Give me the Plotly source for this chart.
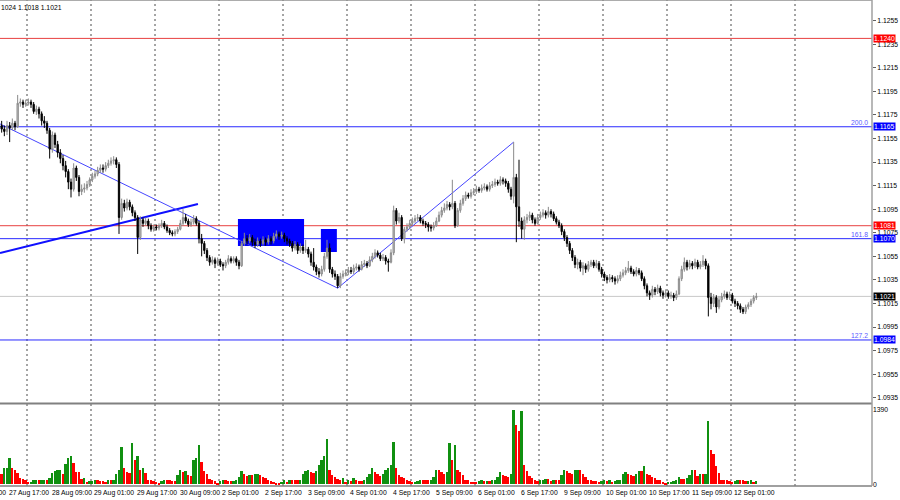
import plotly.graph_objects as go

# ---------------- data (EURUSD H1) ----------------
open_ = [
    1.1166, 1.1163, 1.1161, 1.1166, 1.1164, 1.1168, 1.1165, 1.1185, 1.1186, 1.1184,
    1.1185, 1.1186, 1.1184, 1.1178, 1.1180, 1.1176, 1.1170, 1.1168, 1.1162, 1.1146,
    1.1158, 1.1150, 1.1143, 1.1138, 1.1132, 1.1127, 1.1118, 1.1112, 1.1130, 1.1122,
    1.1110, 1.1112, 1.1113, 1.1116, 1.1120, 1.1123, 1.1125, 1.1128, 1.1130, 1.1129,
    1.1132, 1.1134, 1.1136, 1.1137, 1.1133, 1.1088, 1.1100, 1.1096, 1.1101, 1.1097,
    1.1092, 1.1088, 1.1071, 1.1086, 1.1083, 1.1085, 1.1081, 1.1078, 1.1080, 1.1079,
    1.1081, 1.1083, 1.1080, 1.1077, 1.1075, 1.1074, 1.1076, 1.1078, 1.1083, 1.1088,
    1.1085, 1.1082, 1.1084, 1.1087, 1.1083, 1.1070, 1.1066, 1.1060, 1.1054, 1.1050,
    1.1052, 1.1049, 1.1051, 1.1048, 1.1047, 1.1050, 1.1053, 1.1051, 1.1053, 1.1050,
    1.1047, 1.1066, 1.1070, 1.1068, 1.1071, 1.1067, 1.1065, 1.1068, 1.1066, 1.1069,
    1.1067, 1.1070, 1.1068, 1.1072, 1.1074, 1.1072, 1.1073, 1.1070, 1.1068, 1.1066,
    1.1062, 1.1065, 1.1060, 1.1063, 1.1060, 1.1061, 1.1057, 1.1050, 1.1046, 1.1042,
    1.1040, 1.1044, 1.1055, 1.1062, 1.1044, 1.1040, 1.1038, 1.1030, 1.1038, 1.1040,
    1.1041, 1.1043, 1.1042, 1.1045, 1.1046, 1.1044, 1.1048, 1.1049, 1.1047, 1.1052,
    1.1055, 1.1058, 1.1056, 1.1053, 1.1054, 1.1051, 1.1050, 1.1058, 1.1094, 1.1085,
    1.1088, 1.1070, 1.1078, 1.1080, 1.1083, 1.1085, 1.1087, 1.1088, 1.1085, 1.1083,
    1.1082, 1.1080, 1.1079, 1.1081, 1.1085, 1.1090, 1.1094, 1.1096, 1.1099, 1.1097,
    1.1100, 1.1081, 1.1094, 1.1100, 1.1104, 1.1107, 1.1106, 1.1109, 1.1110, 1.1112,
    1.1111, 1.1113, 1.1114, 1.1112, 1.1115, 1.1116, 1.1118, 1.1117, 1.1120, 1.1119,
    1.1117, 1.1112, 1.1106, 1.1122, 1.1097, 1.1085, 1.1078, 1.1086, 1.1088, 1.1090,
    1.1086, 1.1083, 1.1088, 1.1090, 1.1092, 1.1090, 1.1093, 1.1091, 1.1087, 1.1084,
    1.1081, 1.1076, 1.1071, 1.1066, 1.1060, 1.1054, 1.1048, 1.1050, 1.1045, 1.1047,
    1.1044, 1.1048, 1.1050, 1.1047, 1.1049, 1.1044, 1.1040, 1.1037, 1.1035, 1.1037,
    1.1036, 1.1034, 1.1036, 1.1039, 1.1041, 1.1043, 1.1045, 1.1042, 1.1040, 1.1043,
    1.1041, 1.1036, 1.1030, 1.1024, 1.1022, 1.1027, 1.1025, 1.1028, 1.1024, 1.1022,
    1.1024, 1.1021, 1.1022, 1.1020, 1.1023, 1.1036, 1.1044, 1.1050, 1.1046, 1.1049,
    1.1047, 1.1050, 1.1046, 1.1048, 1.1051, 1.1047, 1.1020, 1.1015, 1.1020, 1.1012,
    1.1018, 1.1021, 1.1023, 1.1020, 1.1022, 1.1017, 1.1015, 1.1013, 1.1010, 1.1008,
    1.1012, 1.1014, 1.1017, 1.1020,
]
high_ = [
    1.1170, 1.1166, 1.1170, 1.1169, 1.1172, 1.1170, 1.1192, 1.1189, 1.1188, 1.1188,
    1.1189, 1.1188, 1.1186, 1.1183, 1.1182, 1.1178, 1.1174, 1.1170, 1.1164, 1.1161,
    1.1160, 1.1153, 1.1146, 1.1141, 1.1136, 1.1129, 1.1121, 1.1134, 1.1132, 1.1124,
    1.1116, 1.1117, 1.1119, 1.1122, 1.1126, 1.1128, 1.1131, 1.1133, 1.1133, 1.1135,
    1.1137, 1.1139, 1.1140, 1.1139, 1.1135, 1.1104, 1.1103, 1.1104, 1.1103, 1.1099,
    1.1094, 1.1090, 1.1089, 1.1088, 1.1088, 1.1087, 1.1083, 1.1082, 1.1082, 1.1083,
    1.1086, 1.1085, 1.1082, 1.1079, 1.1077, 1.1078, 1.1080, 1.1086, 1.1095, 1.1091,
    1.1087, 1.1087, 1.1090, 1.1089, 1.1085, 1.1074, 1.1068, 1.1062, 1.1056, 1.1055,
    1.1054, 1.1054, 1.1053, 1.1050, 1.1052, 1.1056, 1.1055, 1.1055, 1.1055, 1.1052,
    1.1068, 1.1075, 1.1073, 1.1074, 1.1073, 1.1070, 1.1071, 1.1070, 1.1072, 1.1071,
    1.1073, 1.1072, 1.1075, 1.1077, 1.1076, 1.1076, 1.1075, 1.1072, 1.1070, 1.1068,
    1.1068, 1.1067, 1.1066, 1.1065, 1.1069, 1.1063, 1.1059, 1.1062, 1.1048, 1.1045,
    1.1047, 1.1058, 1.1069, 1.1066, 1.1046, 1.1043, 1.1040, 1.1041, 1.1043, 1.1044,
    1.1046, 1.1046, 1.1048, 1.1049, 1.1048, 1.1051, 1.1052, 1.1051, 1.1055, 1.1058,
    1.1061, 1.1060, 1.1058, 1.1057, 1.1056, 1.1053, 1.1061, 1.1098, 1.1096, 1.1092,
    1.1090, 1.1080, 1.1083, 1.1086, 1.1088, 1.1090, 1.1091, 1.1090, 1.1087, 1.1085,
    1.1084, 1.1082, 1.1084, 1.1088, 1.1093, 1.1097, 1.1100, 1.1102, 1.1101, 1.1120,
    1.1102, 1.1096, 1.1103, 1.1107, 1.1110, 1.1109, 1.1112, 1.1113, 1.1115, 1.1114,
    1.1116, 1.1117, 1.1116, 1.1118, 1.1119, 1.1121, 1.1120, 1.1123, 1.1122, 1.1121,
    1.1119, 1.1114, 1.1152, 1.1125, 1.1137, 1.1088, 1.1089, 1.1091, 1.1093, 1.1092,
    1.1088, 1.1091, 1.1093, 1.1095, 1.1094, 1.1097, 1.1095, 1.1093, 1.1089, 1.1086,
    1.1083, 1.1078, 1.1073, 1.1068, 1.1062, 1.1056, 1.1053, 1.1052, 1.1050, 1.1049,
    1.1051, 1.1052, 1.1052, 1.1052, 1.1051, 1.1046, 1.1042, 1.1039, 1.1040, 1.1039,
    1.1038, 1.1039, 1.1042, 1.1044, 1.1046, 1.1051, 1.1047, 1.1044, 1.1046, 1.1045,
    1.1043, 1.1038, 1.1032, 1.1026, 1.1030, 1.1029, 1.1031, 1.1030, 1.1026, 1.1027,
    1.1026, 1.1025, 1.1024, 1.1026, 1.1038, 1.1047, 1.1054, 1.1052, 1.1052, 1.1051,
    1.1053, 1.1052, 1.1051, 1.1056, 1.1053, 1.1049, 1.1024, 1.1023, 1.1022, 1.1021,
    1.1024, 1.1026, 1.1025, 1.1025, 1.1024, 1.1019, 1.1017, 1.1015, 1.1012, 1.1014,
    1.1016, 1.1019, 1.1022, 1.1024,
]
low_ = [
    1.1160, 1.1157, 1.1158, 1.1152, 1.1162, 1.1162, 1.1164, 1.1182, 1.1181, 1.1182,
    1.1183, 1.1181, 1.1176, 1.1175, 1.1172, 1.1166, 1.1164, 1.1159, 1.1138, 1.1143,
    1.1147, 1.1139, 1.1134, 1.1128, 1.1122, 1.1112, 1.1105, 1.1110, 1.1119, 1.1106,
    1.1107, 1.1109, 1.1111, 1.1114, 1.1118, 1.1121, 1.1123, 1.1126, 1.1126, 1.1127,
    1.1130, 1.1132, 1.1133, 1.1130, 1.1074, 1.1086, 1.1093, 1.1094, 1.1094, 1.1089,
    1.1085, 1.1057, 1.1069, 1.1080, 1.1081, 1.1078, 1.1076, 1.1076, 1.1077, 1.1077,
    1.1079, 1.1078, 1.1075, 1.1073, 1.1072, 1.1072, 1.1074, 1.1077, 1.1081, 1.1083,
    1.1080, 1.1080, 1.1082, 1.1081, 1.1066, 1.1055, 1.1057, 1.1051, 1.1047, 1.1048,
    1.1045, 1.1047, 1.1046, 1.1043, 1.1045, 1.1048, 1.1049, 1.1049, 1.1047, 1.1044,
    1.1046, 1.1064, 1.1065, 1.1066, 1.1064, 1.1062, 1.1063, 1.1063, 1.1064, 1.1064,
    1.1065, 1.1065, 1.1066, 1.1070, 1.1069, 1.1070, 1.1067, 1.1065, 1.1063, 1.1059,
    1.1060, 1.1057, 1.1058, 1.1057, 1.1058, 1.1054, 1.1047, 1.1043, 1.1039, 1.1037,
    1.1038, 1.1042, 1.1053, 1.1041, 1.1037, 1.1035, 1.1028, 1.1028, 1.1036, 1.1038,
    1.1039, 1.1040, 1.1040, 1.1043, 1.1042, 1.1043, 1.1046, 1.1045, 1.1046, 1.1050,
    1.1053, 1.1054, 1.1051, 1.1051, 1.1048, 1.1042, 1.1049, 1.1056, 1.1082, 1.1083,
    1.1068, 1.1066, 1.1076, 1.1078, 1.1081, 1.1083, 1.1085, 1.1083, 1.1081, 1.1079,
    1.1076, 1.1076, 1.1077, 1.1080, 1.1084, 1.1088, 1.1092, 1.1094, 1.1094, 1.1095,
    1.1079, 1.1080, 1.1092, 1.1098, 1.1102, 1.1104, 1.1104, 1.1107, 1.1108, 1.1109,
    1.1109, 1.1111, 1.1110, 1.1110, 1.1113, 1.1114, 1.1115, 1.1115, 1.1116, 1.1114,
    1.1109, 1.1103, 1.1100, 1.1067, 1.1080, 1.1070, 1.1069, 1.1083, 1.1085, 1.1083,
    1.1081, 1.1082, 1.1086, 1.1088, 1.1087, 1.1088, 1.1088, 1.1085, 1.1082, 1.1079,
    1.1073, 1.1068, 1.1063, 1.1057, 1.1051, 1.1045, 1.1044, 1.1042, 1.1039, 1.1041,
    1.1042, 1.1046, 1.1045, 1.1045, 1.1042, 1.1037, 1.1034, 1.1032, 1.1033, 1.1033,
    1.1031, 1.1032, 1.1034, 1.1037, 1.1039, 1.1041, 1.1040, 1.1038, 1.1038, 1.1039,
    1.1034, 1.1027, 1.1021, 1.1018, 1.1020, 1.1022, 1.1023, 1.1021, 1.1019, 1.1020,
    1.1019, 1.1019, 1.1017, 1.1018, 1.1022, 1.1034, 1.1042, 1.1043, 1.1044, 1.1044,
    1.1045, 1.1044, 1.1044, 1.1046, 1.1044, 1.1004, 1.1010, 1.1012, 1.1007, 1.1010,
    1.1016, 1.1019, 1.1018, 1.1018, 1.1015, 1.1012, 1.1010, 1.1007, 1.1006, 1.1006,
    1.1010, 1.1012, 1.1015, 1.1018,
]
close_ = [
    1.1163, 1.1161, 1.1166, 1.1164, 1.1168, 1.1165, 1.1185, 1.1186, 1.1184, 1.1185,
    1.1186, 1.1184, 1.1178, 1.1180, 1.1176, 1.1170, 1.1168, 1.1162, 1.1146, 1.1158,
    1.1150, 1.1143, 1.1138, 1.1132, 1.1127, 1.1118, 1.1112, 1.1130, 1.1122, 1.1110,
    1.1112, 1.1113, 1.1116, 1.1120, 1.1123, 1.1125, 1.1128, 1.1130, 1.1129, 1.1132,
    1.1134, 1.1136, 1.1137, 1.1133, 1.1088, 1.1100, 1.1096, 1.1101, 1.1097, 1.1092,
    1.1088, 1.1071, 1.1086, 1.1083, 1.1085, 1.1081, 1.1078, 1.1080, 1.1079, 1.1081,
    1.1083, 1.1080, 1.1077, 1.1075, 1.1074, 1.1076, 1.1078, 1.1083, 1.1088, 1.1085,
    1.1082, 1.1084, 1.1087, 1.1083, 1.1070, 1.1066, 1.1060, 1.1054, 1.1050, 1.1052,
    1.1049, 1.1051, 1.1048, 1.1047, 1.1050, 1.1053, 1.1051, 1.1053, 1.1050, 1.1047,
    1.1066, 1.1070, 1.1068, 1.1071, 1.1067, 1.1065, 1.1068, 1.1066, 1.1069, 1.1067,
    1.1070, 1.1068, 1.1072, 1.1074, 1.1072, 1.1073, 1.1070, 1.1068, 1.1066, 1.1062,
    1.1065, 1.1060, 1.1063, 1.1060, 1.1061, 1.1057, 1.1050, 1.1046, 1.1042, 1.1040,
    1.1044, 1.1055, 1.1062, 1.1044, 1.1040, 1.1038, 1.1030, 1.1038, 1.1040, 1.1041,
    1.1043, 1.1042, 1.1045, 1.1046, 1.1044, 1.1048, 1.1049, 1.1047, 1.1052, 1.1055,
    1.1058, 1.1056, 1.1053, 1.1054, 1.1051, 1.1050, 1.1058, 1.1094, 1.1085, 1.1088,
    1.1070, 1.1078, 1.1080, 1.1083, 1.1085, 1.1087, 1.1088, 1.1085, 1.1083, 1.1082,
    1.1080, 1.1079, 1.1081, 1.1085, 1.1090, 1.1094, 1.1096, 1.1099, 1.1097, 1.1100,
    1.1081, 1.1094, 1.1100, 1.1104, 1.1107, 1.1106, 1.1109, 1.1110, 1.1112, 1.1111,
    1.1113, 1.1114, 1.1112, 1.1115, 1.1116, 1.1118, 1.1117, 1.1120, 1.1119, 1.1117,
    1.1112, 1.1106, 1.1122, 1.1097, 1.1085, 1.1078, 1.1086, 1.1088, 1.1090, 1.1086,
    1.1083, 1.1088, 1.1090, 1.1092, 1.1090, 1.1093, 1.1091, 1.1087, 1.1084, 1.1081,
    1.1076, 1.1071, 1.1066, 1.1060, 1.1054, 1.1048, 1.1050, 1.1045, 1.1047, 1.1044,
    1.1048, 1.1050, 1.1047, 1.1049, 1.1044, 1.1040, 1.1037, 1.1035, 1.1037, 1.1036,
    1.1034, 1.1036, 1.1039, 1.1041, 1.1043, 1.1045, 1.1042, 1.1040, 1.1043, 1.1041,
    1.1036, 1.1030, 1.1024, 1.1022, 1.1027, 1.1025, 1.1028, 1.1024, 1.1022, 1.1024,
    1.1021, 1.1022, 1.1020, 1.1023, 1.1036, 1.1044, 1.1050, 1.1046, 1.1049, 1.1047,
    1.1050, 1.1046, 1.1048, 1.1051, 1.1047, 1.1020, 1.1015, 1.1020, 1.1012, 1.1018,
    1.1021, 1.1023, 1.1020, 1.1022, 1.1017, 1.1015, 1.1013, 1.1010, 1.1008, 1.1012,
    1.1014, 1.1017, 1.1020, 1.1021,
]
volume = [
    203, 296, 314, 499, 296, 265, 216, 123, 99, 80,
    40, 55, 75, 90, 78, 80, 85, 82, 129, 216,
    253, 265, 277, 191, 388, 499, 524, 400, 234, 230,
    99, 111, 49, 62, 68, 80, 80, 62, 62, 49,
    80, 80, 92, 203, 265, 696, 296, 234, 216, 776,
    450, 524, 265, 314, 216, 92, 92, 68, 49, 31,
    68, 92, 80, 80, 68, 68, 172, 265, 234, 253,
    172, 160, 462, 499, 727, 419, 253, 191, 99, 92,
    68, 18, 68, 80, 80, 68, 62, 68, 80, 142,
    253, 203, 154, 172, 172, 185, 191, 172, 142, 129,
    80, 68, 49, 31, 18, 49, 80, 43, 92, 92,
    80, 80, 92, 203, 253, 277, 234, 216, 253, 357,
    450, 524, 850, 265, 172, 142, 105, 80, 111, 49,
    92, 68, 111, 80, 68, 68, 92, 142, 203, 314,
    234, 191, 154, 203, 265, 314, 357, 789, 296, 172,
    142, 111, 80, 62, 43, 49, 68, 92, 80, 80,
    80, 92, 142, 277, 265, 234, 185, 234, 770, 462,
    727, 265, 234, 172, 92, 80, 49, 49, 49, 62,
    80, 62, 68, 62, 80, 92, 142, 234, 172, 154,
    142, 191, 1386, 1109, 986, 1361, 357, 253, 154, 123,
    80, 62, 80, 92, 105, 105, 62, 80, 80, 80,
    172, 277, 253, 216, 191, 265, 277, 265, 191, 142,
    92, 80, 68, 68, 49, 68, 92, 68, 80, 49,
    68, 80, 92, 191, 222, 191, 172, 154, 203, 253,
    253, 339, 203, 172, 142, 111, 92, 80, 49, 31,
    43, 49, 62, 80, 142, 105, 105, 111, 172, 265,
    265, 160, 185, 185, 191, 1177, 634, 573, 339, 216,
    92, 92, 80, 62, 49, 62, 80, 80, 80, 62,
    68, 80, 49, 62,
]
# time-axis labels: (bar index, text)
time_label_bars = [-14, 2, 18, 34, 50, 66, 82, 98, 114, 130, 146, 162, 178, 194, 210, 226, 242, 258, 274]
time_label_text = ["27 Aug 01:00", "27 Aug 17:00", "28 Aug 09:00", "29 Aug 01:00", "29 Aug 17:00",
                   "30 Aug 09:00", "2 Sep 01:00", "2 Sep 17:00", "3 Sep 09:00", "4 Sep 01:00",
                   "4 Sep 17:00", "5 Sep 09:00", "6 Sep 01:00", "6 Sep 17:00", "9 Sep 09:00",
                   "10 Sep 01:00", "10 Sep 17:00", "11 Sep 09:00", "12 Sep 01:00"]
price_ticks = [1.1255, 1.1235, 1.1215, 1.1195, 1.1175, 1.1155, 1.1135, 1.1115, 1.1095,
               1.1075, 1.1055, 1.1035, 1.1015, 1.0995, 1.0975, 1.0955, 1.0935]
volume_ticks = [0, 1390]
# horizontal levels: price, kind
level_prices = [1.1240, 1.1165, 1.1081, 1.1070, 1.1021, 1.0984]
level_kinds = ["red", "blue", "red", "blue", "bid", "blue"]
fib_labels = {1.1165: "200.0", 1.1070: "161.8", 1.0984: "127.2"}
# trend / zigzag lines (bar, price)
thick_line = [(-0.63, 1.10579), (73.6, 1.10994)]
zigzag = [(-0.63, 1.11674), (126, 1.1028), (192, 1.1152)]
# blue zones (bar0, bar1, price_low, price_high)
zones = [(88.6, 113.4, 1.10638, 1.10867), (119.7, 125.7, 1.10587, 1.10782)]
info_text = "1024 1.1018 1.1021"

# ---------------- figure ----------------
N = len(close_)
xs = list(range(N))
BAR_PX = 8 / 3
X0_PX = 1.67
PLOT_W = 872
x_lo = -X0_PX / BAR_PX
x_hi = (PLOT_W - X0_PX) / BAR_PX

FONT = "Liberation Sans"
FS = 6.8

vol_colors = []
for i, v in enumerate(volume):
    if i == 0:
        vol_colors.append("#ff0000")
    else:
        vol_colors.append("#109010" if v > volume[i - 1] else "#ff0000")

fig = go.Figure()
fig.add_trace(go.Candlestick(
    x=xs, open=open_, high=high_, low=low_, close=close_,
    increasing=dict(line=dict(color="#8a8a8a", width=1), fillcolor="#c8c8c8"),
    decreasing=dict(line=dict(color="#000000", width=1), fillcolor="#000000"),
    xaxis="x", yaxis="y", showlegend=False, hoverinfo="skip", whiskerwidth=0,
))
fig.add_trace(go.Bar(
    x=xs, y=volume, marker=dict(color=vol_colors, line=dict(width=0)),
    width=0.72, xaxis="x2", yaxis="y2", showlegend=False, hoverinfo="skip",
))

PLOT_H = 486
price_bottom = (PLOT_H - 403) / PLOT_H
vol_top = (PLOT_H - 405) / PLOT_H
ymin, ymax = 1.09305, 1.12726

shapes = []
# zones
for b0, b1, p0, p1 in zones:
    shapes.append(dict(type="rect", xref="x", yref="y", x0=b0, x1=b1, y0=p0, y1=p1,
                       fillcolor="#0000ff", line=dict(width=0), layer="below"))
# vertical dashed grid
for k in range(13):
    px = 27 + 64 * k
    shapes.append(dict(type="line", xref="paper", yref="paper", x0=px / PLOT_W, x1=px / PLOT_W,
                       y0=0, y1=1, line=dict(color="#4a4a4a", width=1, dash="2px,3px"), layer="below"))
# horizontal levels
colors = {"red": "#e84040", "blue": "#2a2aff", "bid": "#c8c8c8"}
for p, kind in zip(level_prices, level_kinds):
    shapes.append(dict(type="line", xref="x domain", yref="y", x0=0, x1=1, y0=p, y1=p,
                       line=dict(color=colors[kind], width=1), layer="below"))
# thick trendline
shapes.append(dict(type="line", xref="x", yref="y", x0=thick_line[0][0], y0=thick_line[0][1],
                   x1=thick_line[1][0], y1=thick_line[1][1], line=dict(color="#1010ff", width=2), layer="below"))
# zigzag thin lines
for (a, b) in zip(zigzag[:-1], zigzag[1:]):
    shapes.append(dict(type="line", xref="x", yref="y", x0=a[0], y0=a[1], x1=b[0], y1=b[1],
                       line=dict(color="#4646ff", width=1), layer="below"))
# frame lines
shapes.append(dict(type="line", xref="paper", yref="paper", x0=0, x1=1,
                   y0=(PLOT_H - 403.5) / PLOT_H, y1=(PLOT_H - 403.5) / PLOT_H,
                   line=dict(color="#808080", width=2)))
shapes.append(dict(type="line", xref="paper", yref="paper", x0=0, x1=1, y0=0, y1=0,
                   line=dict(color="#808080", width=1.5)))
shapes.append(dict(type="line", xref="paper", yref="paper", x0=0, x1=1, y0=1, y1=1,
                   line=dict(color="#909090", width=1.5)))
shapes.append(dict(type="line", xref="paper", yref="paper", x0=1, x1=1, y0=0, y1=1,
                   line=dict(color="#a0a0a0", width=1.5)))

annotations = []
# time labels
for b, t in zip(time_label_bars, time_label_text):
    xp = (X0_PX + b * BAR_PX) / PLOT_W
    annotations.append(dict(xref="paper", yref="paper", x=xp, y=0, xanchor="left", yanchor="top",
                            yshift=-1, text=t, showarrow=False, font=dict(family=FONT, size=FS, color="#000")))
# level boxes
box_bg = {"red": "#ff0000", "blue": "#0000ff", "bid": "#000000"}
for p, kind in zip(level_prices, level_kinds):
    annotations.append(dict(xref="paper", yref="y", x=1, y=p, xanchor="left", yanchor="middle",
                            xshift=1, text=f"{p:.4f}", showarrow=False, bgcolor=box_bg[kind],
                            borderpad=0, font=dict(family=FONT, size=FS, color="#ffffff")))
for p, t in fib_labels.items():
    annotations.append(dict(xref="paper", yref="y", x=1, y=p, xanchor="right", yanchor="bottom",
                            xshift=-2, yshift=-1, text=t, showarrow=False,
                            font=dict(family=FONT, size=FS, color="#5a5aff")))
annotations.append(dict(xref="paper", yref="paper", x=0, y=1, xanchor="left", yanchor="top",
                        xshift=-1, yshift=-2, text=info_text, showarrow=False,
                        font=dict(family=FONT, size=FS, color="#000")))

fig.update_layout(
    width=900, height=500,
    margin=dict(l=0, r=28, t=0, b=14),
    paper_bgcolor="#ffffff", plot_bgcolor="#ffffff",
    showlegend=False,
    bargap=0,
    font=dict(family=FONT, size=FS, color="#000"),
    xaxis=dict(domain=[0, 1], anchor="y", range=[x_lo, x_hi], showgrid=False, zeroline=False,
               showticklabels=False, ticks="", rangeslider=dict(visible=False), showline=False),
    xaxis2=dict(domain=[0, 1], anchor="y2", matches="x", range=[x_lo, x_hi], showgrid=False,
                zeroline=False, showticklabels=False, ticks="", showline=False),
    yaxis=dict(domain=[price_bottom, 1], range=[ymin, ymax], side="right", anchor="x",
               tickvals=price_ticks, ticktext=[f"{v:.4f}" for v in price_ticks],
               ticks="outside", ticklen=3, tickcolor="#606060", showgrid=False, zeroline=False,
               showline=False, tickfont=dict(family=FONT, size=FS, color="#000")),
    yaxis2=dict(domain=[0, vol_top], range=[-28, 1470], side="right", anchor="x2",
                tickvals=volume_ticks, ticktext=[str(v) for v in volume_ticks],
                ticks="", showgrid=False, zeroline=False, showline=False,
                tickfont=dict(family=FONT, size=FS, color="#000")),
    shapes=shapes,
    annotations=annotations,
)

fig.write_html(
    "out.html",
    config={"displayModeBar": False},
    post_script="document.body.style.margin='0px';document.body.style.padding='0px';",
)
